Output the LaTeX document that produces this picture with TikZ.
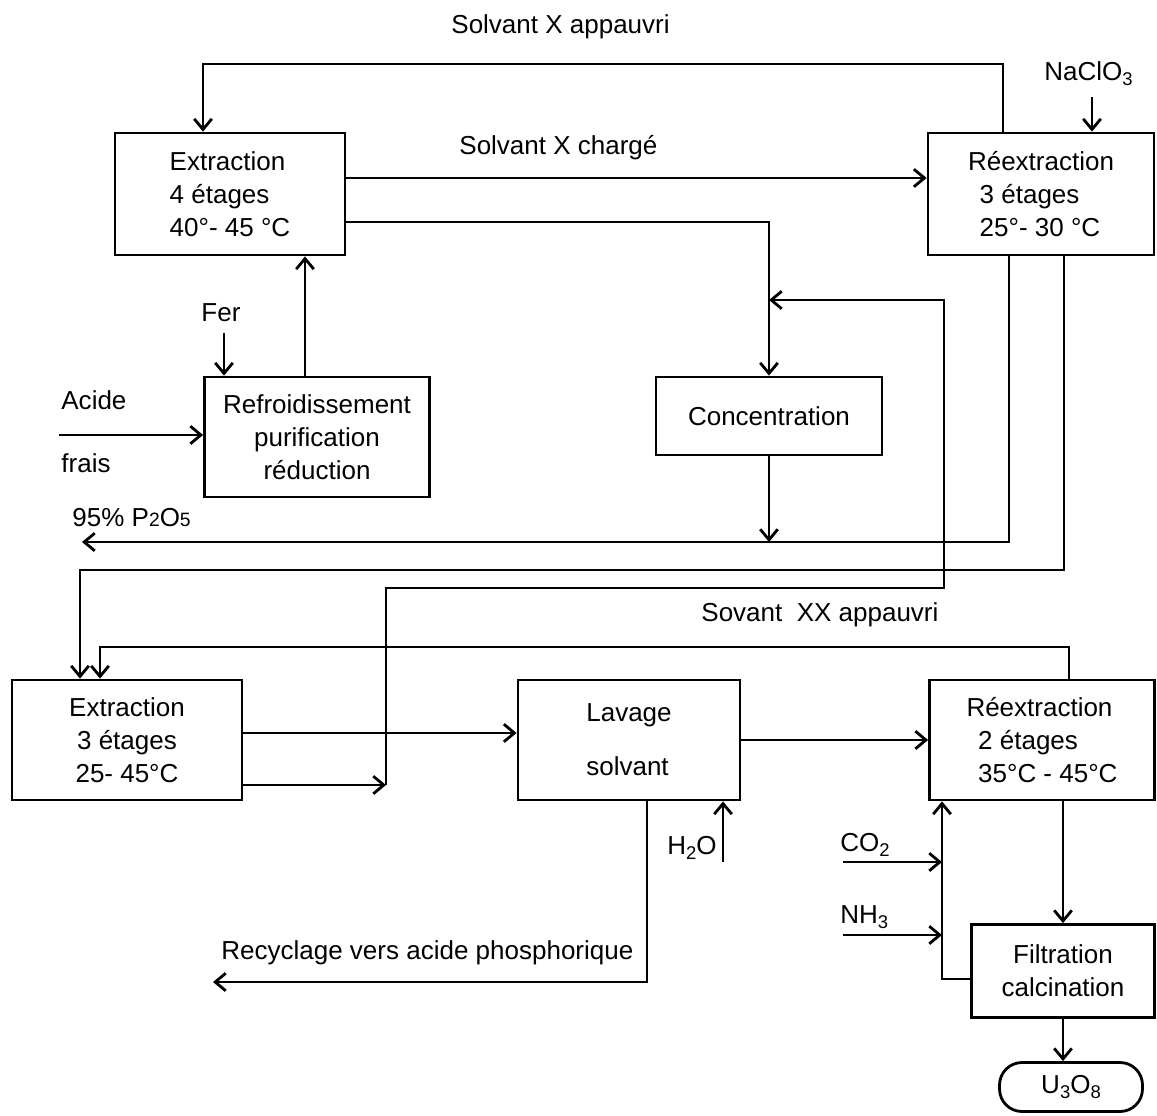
\documentclass[tikz,border=0pt]{standalone}
\usepackage{fontspec}
\setmainfont{Liberation Sans}
\usetikzlibrary{arrows.meta}
\newcommand{\diagfont}{\fontsize{14.8}{18.8}\selectfont}
\newcommand{\chemsub}[1]{\raisebox{-0.35ex}{\fontsize{10.5}{12}\selectfont #1}}
\newcommand{\chemsmall}[1]{{\fontsize{11}{12}\selectfont #1}}
\tikzset{blk/.style = {draw, inner sep = 0pt}}
\tikzset{lbl/.style = {inner sep = 0pt, anchor = west, text height = 10.5pt, text depth = 3pt}}

\begin{document}
\begin{tikzpicture}[x=0.02cm, y=-0.02cm, font=\diagfont, line width=1.6pt,
                    >={Straight Barb[length=6pt,width=10pt]}]

      \useasboundingbox (0,0) rectangle (1157,1116);

      % blocs
      \node[blk, minimum width=4.6cm, minimum height=2.44cm, align=left]
        (ext1) at (230,194) {Extraction\\4 étages\\40°- 45 °C};
      \node[blk, minimum width=4.52cm, minimum height=2.44cm, align=left]
        (reex1) at (1041,194) {Réextraction\\\hspace*{.45em}3 étages\\\hspace*{.45em}25°- 30 °C};
      \node[blk, minimum width=4.5cm, minimum height=2.4cm, align=center]
        (refr) at (317,437) {Refroidissement\\purification\\réduction};
      \node[blk, minimum width=4.52cm, minimum height=1.56cm]
        (conc) at (769,416) {Concentration};
      \node[blk, minimum width=4.6cm, minimum height=2.4cm, align=center]
        (ext2) at (127,740) {Extraction\\3 étages\\25- 45°C};
      \node[blk, minimum width=4.44cm, minimum height=2.4cm, align=left]
        (lav) at (629,740) {Lavage\\[12pt]solvant};
      \node[blk, minimum width=4.5cm, minimum height=2.4cm, align=left]
        (reex2) at (1042,740) {Réextraction\\\hspace*{.45em}2 étages\\\hspace*{.45em}35°C - 45°C};
      \node[blk, minimum width=3.66cm, minimum height=1.86cm, align=center]
        (filt) at (1063,971) {Filtration\\calcination};
      \node[blk, rounded corners=0.45cm, minimum width=2.86cm, minimum height=0.98cm]
        (u3o8) at (1071,1087) {U\chemsub{3}O\chemsub{8}};

      % textes
      \node[lbl] (lblapp) at (450,27)  {Solvant X appauvri};
      \node[lbl] (lblchg) at (458,148) {Solvant X chargé};
      \node[lbl] (nacl)   at (1043,74) {NaClO\chemsub{3}};
      \node[lbl] (fer)    at (200,315) {Fer};
      \node[lbl] (acide)  at (60,403)  {Acide};
      \node[lbl] (frais)  at (60,466)  {frais};
      \node[lbl] (p2o5)   at (71,520)  {95\% P\chemsmall{2}O\chemsmall{5}};
      \node[lbl] (lblxx)  at (700,615) {Sovant\ \ XX appauvri};
      \node[lbl] (recyc)  at (220,953) {Recyclage vers acide phosphorique};
      \node[lbl] (h2o)    at (666,848) {H\chemsub{2}O};
      \node[lbl] (co2)    at (839,845) {CO\chemsub{2}};
      \node[lbl] (nh3)    at (839,917) {NH\chemsub{3}};

      % points de passage
      \coordinate (topR)  at (1003,64);
      \coordinate (topL)  at (203,64);
      \coordinate (chg)   at (640,178);
      \coordinate (slv)   at (769,222);
      \coordinate (naclS) at (1092,97);
      \coordinate (ferS)  at (224,333);
      \coordinate (ru)    at (305,377);
      \coordinate (acidW) at (59,435);
      \coordinate (ra)    at (1009,542);
      \coordinate (raL)   at (82,542);
      \coordinate (rb)    at (1064,570);
      \coordinate (rbL)   at (80,570);
      \coordinate (rc1)   at (386,785);
      \coordinate (rc2)   at (944,588);
      \coordinate (rc3)   at (944,300);
      \coordinate (rd)    at (1069,647);
      \coordinate (rdL)   at (100,647);
      \coordinate (lv)    at (380,733);
      \coordinate (h2oS)  at (723,862);
      \coordinate (rec)   at (647,982);
      \coordinate (recL)  at (213,982);
      \coordinate (co2W)  at (843,862);
      \coordinate (nh3W)  at (843,935);
      \coordinate (nh)    at (942,979);

      % circuit solvant X
      \draw[->] (reex1.north -| topR) |- (topL) -- (ext1.north -| topL);
      \draw[->] (ext1.east |- chg) -- (reex1.west |- chg);
      \draw[->] (ext1.east |- slv) -- (slv) -- (conc.north);
      \draw[->] (naclS) -- (reex1.north -| naclS);
      \draw[->] (ferS) -- (refr.north -| ferS);
      \draw[->] (ru) -- (ext1.south -| ru);
      \draw[->] (acidW) -- (refr.west |- acidW);

      \draw[->] (reex1.south -| ra) |- (raL);
      \draw[->] (conc) -- (conc |- ra);
      \draw[->] (reex1.south -| rb) |- (rbL) -- (ext2.north -| rbL);
      \draw[->] (ext2.east |- rc1) -- (rc1);
      \draw[->] (rc1) |- (rc2) -- (rc3) -- (conc.north |- rc3);

      % circuit solvant XX
      \draw[->] (reex2.north -| rd) |- (rdL) -- (ext2.north -| rdL);
      \draw[->] (ext2.east |- lv) -- (lav.west |- lv);
      \draw[->] (lav) -- (reex2);
      \draw[->] (h2oS) -- (lav.south -| h2oS);
      \draw[->] (lav.south -| rec) -- (rec) -- (recL);
      \draw[->] (co2W) -- (co2W -| nh);
      \draw[->] (nh3W) -- (nh3W -| nh);
      \draw[->] (filt.west |- nh) -- (nh) -- (reex2.south -| nh);
      \draw[->] (filt |- reex2.south) -- (filt.north);
      \draw[->] (filt) -- (filt |- u3o8.north);

    \end{tikzpicture}
\end{document}
